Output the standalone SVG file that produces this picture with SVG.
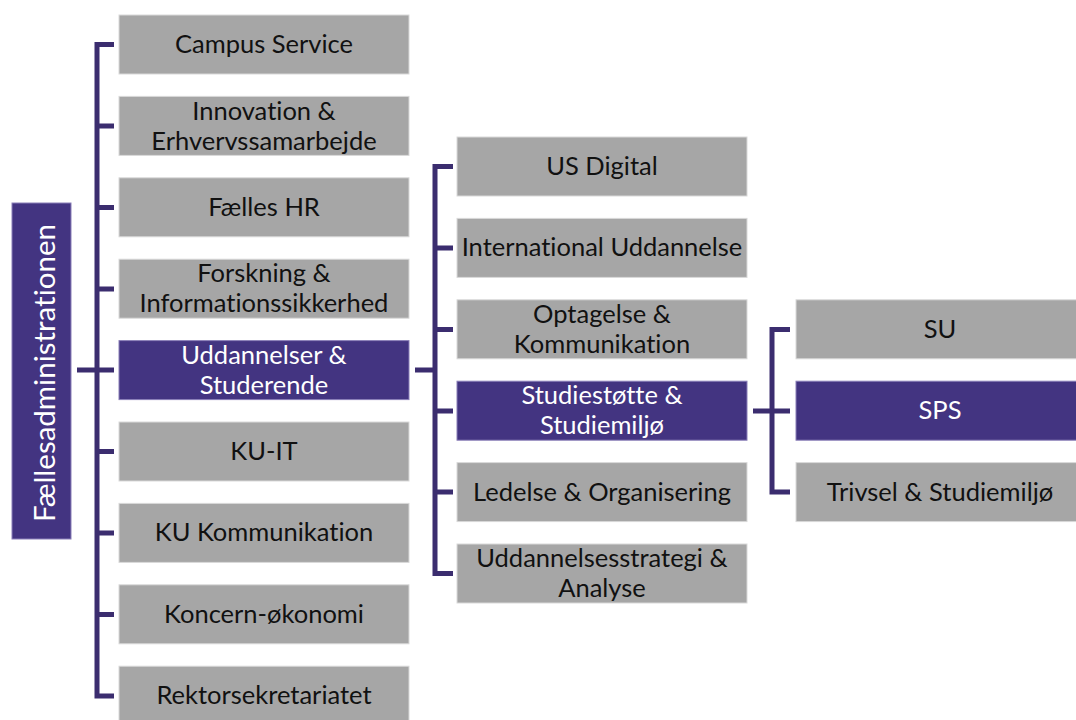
<svg xmlns="http://www.w3.org/2000/svg" width="1076" height="720" viewBox="0 0 1076 720">
<style>
.g{fill:#a6a6a6;stroke:#d9d9d9;stroke-width:1}
.p{fill:#433481;stroke:#8a7fb8;stroke-width:1}
text{font-family:Lato,"Liberation Sans",sans-serif;font-size:25.5px;text-anchor:middle;dominant-baseline:central;font-variant-ligatures:none}
.tg{fill:#111}
.tp{fill:#fff}
.r{font-size:29.5px}
.c{fill:none;stroke:#3b2d6f;stroke-width:5}
</style>
<rect width="1076" height="720" fill="#fff"/>
<g id="connectors">
<path class="c" d="M114 44.5H97V696H114M97 126H114M97 207.5H114M97 289H114M97 370H114M97 451.5H114M97 533H114M97 614.5H114M77 370H97"/>
<path class="c" d="M453 166.5H435V573.5H453M435 248H453M435 329.5H453M435 411H453M435 492H453M415 370H435"/>
<path class="c" d="M790 329.5H772V492H790M753 411H790"/>
</g>
<g transform="translate(0 -1.5)">
<g id="root"><rect class="p" x="12" y="204.5" width="59" height="336"/><text class="tp r" transform="translate(43 374.5) rotate(-90)">Fællesadministrationen</text></g>
<g id="n1"><rect class="g" x="119" y="16.5" width="290" height="59"/><text class="tg" x="264" y="44.5">Campus Service</text></g>
<g id="n2"><rect class="g" x="119" y="97.9" width="290" height="59"/><text class="tg" x="264" y="111">Innovation &amp;</text><text class="tg" x="264" y="141">Erhvervssamarbejde</text></g>
<g id="n3"><rect class="g" x="119" y="179.3" width="290" height="59"/><text class="tg" x="264" y="207.3">Fælles HR</text></g>
<g id="n4"><rect class="g" x="119" y="260.7" width="290" height="59"/><text class="tg" x="264" y="273.7">Forskning &amp;</text><text class="tg" x="264" y="303.7">Informationssikkerhed</text></g>
<g id="n5"><rect class="p" x="119" y="342.1" width="290" height="59"/><text class="tp" x="264" y="355.1">Uddannelser &amp;</text><text class="tp" x="264" y="385.1">Studerende</text></g>
<g id="n6"><rect class="g" x="119" y="423.5" width="290" height="59"/><text class="tg" x="264" y="451.5">KU-IT</text></g>
<g id="n7"><rect class="g" x="119" y="504.9" width="290" height="59"/><text class="tg" x="264" y="532.9">KU Kommunikation</text></g>
<g id="n8"><rect class="g" x="119" y="586.3" width="290" height="59"/><text class="tg" x="264" y="614.3">Koncern-økonomi</text></g>
<g id="n9"><rect class="g" x="119" y="667.7" width="290" height="59"/><text class="tg" x="264" y="695.7">Rektorsekretariatet</text></g>
<g id="m1"><rect class="g" x="457" y="138.5" width="290" height="59"/><text class="tg" x="602" y="166.5">US Digital</text></g>
<g id="m2"><rect class="g" x="457" y="219.9" width="290" height="59"/><text class="tg" x="602" y="247.9">International Uddannelse</text></g>
<g id="m3"><rect class="g" x="457" y="301.3" width="290" height="59"/><text class="tg" x="602" y="314.3">Optagelse &amp;</text><text class="tg" x="602" y="344.3">Kommunikation</text></g>
<g id="m4"><rect class="p" x="457" y="382.7" width="290" height="59"/><text class="tp" x="602" y="395.7">Studiestøtte &amp;</text><text class="tp" x="602" y="425.7">Studiemiljø</text></g>
<g id="m5"><rect class="g" x="457" y="464.1" width="290" height="59"/><text class="tg" x="602" y="492.1">Ledelse &amp; Organisering</text></g>
<g id="m6"><rect class="g" x="457" y="545.5" width="290" height="59"/><text class="tg" x="602" y="558.5">Uddannelsesstrategi &amp;</text><text class="tg" x="602" y="588.5">Analyse</text></g>
<g id="s1"><rect class="g" x="796" y="301.3" width="290" height="59"/><text class="tg" x="940" y="329.3">SU</text></g>
<g id="s2"><rect class="p" x="796" y="382.7" width="290" height="59"/><text class="tp" x="940" y="410.7">SPS</text></g>
<g id="s3"><rect class="g" x="796" y="464.1" width="290" height="59"/><text class="tg" x="940" y="492.1">Trivsel &amp; Studiemiljø</text></g>
</g>
</svg>
